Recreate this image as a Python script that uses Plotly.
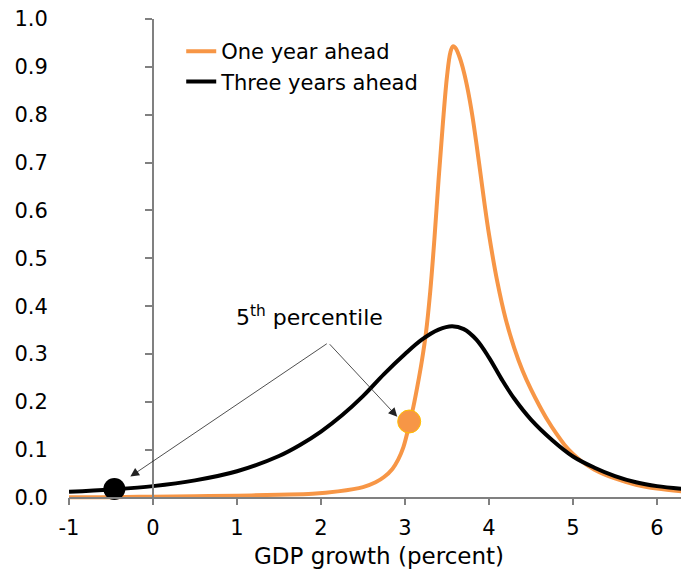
import plotly.graph_objects as go

# ---- data ----
x_one = [-1.0, -0.5, 0.0, 0.5, 1.0, 1.5, 1.9, 2.2, 2.5, 2.65, 2.75, 2.85, 2.92, 2.98,
         3.05, 3.1, 3.15, 3.2, 3.25, 3.3, 3.35, 3.4, 3.45, 3.5, 3.54, 3.57, 3.6, 3.65,
         3.7, 3.75, 3.8, 3.85, 3.9, 3.95, 4.0, 4.1, 4.2, 4.3, 4.4, 4.5, 4.6, 4.7, 4.8,
         4.9, 5.0, 5.1, 5.25, 5.5, 5.75, 6.0, 6.38]
y_one = [0.001, 0.001, 0.002, 0.003, 0.004, 0.006, 0.008, 0.013, 0.022, 0.032, 0.043,
         0.06, 0.08, 0.105, 0.152, 0.19, 0.235, 0.285, 0.345, 0.43, 0.54, 0.665, 0.78,
         0.88, 0.93, 0.943, 0.94, 0.92, 0.89, 0.85, 0.80, 0.74, 0.675, 0.61, 0.55,
         0.45, 0.372, 0.313, 0.265, 0.226, 0.192, 0.161, 0.134, 0.11, 0.091, 0.076,
         0.059, 0.04, 0.027, 0.019, 0.012]

x_three = [-1.0, -0.5, 0.0, 0.5, 1.0, 1.5, 1.75, 2.0, 2.25, 2.5, 2.75, 3.0, 3.2, 3.4,
           3.56, 3.7, 3.85, 4.0, 4.15, 4.3, 4.5, 4.75, 5.0, 5.25, 5.5, 5.75, 6.0, 6.38]
y_three = [0.012, 0.017, 0.024, 0.036, 0.055, 0.087, 0.11, 0.138, 0.172, 0.212, 0.258,
           0.300, 0.33, 0.351, 0.358, 0.352, 0.33, 0.2925, 0.2475, 0.207, 0.163, 0.1205,
           0.086, 0.063, 0.045, 0.032, 0.024, 0.017]

# 5th percentile points
p5_one = (3.05, 0.159)
p5_three = (-0.46, 0.018)

# annotation anchors
label_pos = (1.865, 0.38)
arrow_tail = (2.087, 0.3236)
arrow_head_one = (2.908, 0.169)
arrow_head_three = (-0.27, 0.044)

x_ticks = [-1, 0, 1, 2, 3, 4, 5, 6]
y_ticks = [0.0, 0.1, 0.2, 0.3, 0.4, 0.5, 0.6, 0.7, 0.8, 0.9, 1.0]

ORANGE = "#F79646"
FONT = "DejaVu Sans"
AXIS_GRAY = "#808080"

x_range = [-1, -1 + 620 / 84]
y_range = [-0.005, 1.0]

fig = go.Figure()
fig.add_trace(go.Scatter(x=x_one, y=y_one, mode="lines", name="One year ahead",
                         line=dict(color=ORANGE, width=4, shape="spline", smoothing=1.0),
                         hoverinfo="skip"))
fig.add_trace(go.Scatter(x=x_three, y=y_three, mode="lines", name="Three years ahead",
                         line=dict(color="black", width=4, shape="spline", smoothing=1.0),
                         hoverinfo="skip"))
# dots on the overlay axis (which also carries the y-axis line at x=0)
fig.add_trace(go.Scatter(x=[p5_three[0]], y=[p5_three[1]], mode="markers", yaxis="y2",
                         marker=dict(color="black", size=22), showlegend=False,
                         hoverinfo="skip"))
fig.add_trace(go.Scatter(x=[p5_one[0]], y=[p5_one[1]], mode="markers", yaxis="y2",
                         marker=dict(color=ORANGE, size=23, line=dict(color="#FFC000", width=1)),
                         showlegend=False, hoverinfo="skip"))

# The page body has an 8px default margin, so the figure is sized to fill the rest.
fig.update_layout(
    width=681, height=561,
    margin=dict(l=61, r=0, t=11, b=69, autoexpand=False),
    paper_bgcolor="white", plot_bgcolor="white",
    font=dict(family=FONT, size=21, color="black"),
    showlegend=True,
    legend=dict(x=0.181, y=0.975, xanchor="left", yanchor="top",
                bgcolor="rgba(0,0,0,0)", font=dict(size=21, family=FONT),
                tracegroupgap=0),
    xaxis=dict(range=x_range, tickvals=x_ticks, ticktext=[str(v) for v in x_ticks],
               showgrid=False, zeroline=False, showline=True, linecolor=AXIS_GRAY,
               linewidth=1.5, ticks="outside", ticklen=7, tickwidth=1.5,
               tickcolor=AXIS_GRAY, anchor="free", position=0.005 / 1.005,
               ticklabelstandoff=4, automargin=False, ticklabeloverflow="allow",
               title=dict(text="GDP growth (percent)", font=dict(size=23), standoff=20),
               tickfont=dict(size=21)),
    yaxis=dict(range=y_range, tickvals=y_ticks, tickformat=".1f", showgrid=False,
               zeroline=False, showline=False, ticks="outside", ticklen=16,
               tickcolor="rgba(0,0,0,0)", tickfont=dict(size=21), automargin=False,
               ticklabeloverflow="allow"),
    yaxis2=dict(range=y_range, overlaying="y", anchor="free",
                position=1 / (x_range[1] - x_range[0]), side="left",
                showgrid=False, zeroline=False, showline=True, linecolor=AXIS_GRAY,
                linewidth=1.5, ticks="outside", ticklen=7, tickwidth=1.5,
                tickcolor=AXIS_GRAY, tickvals=y_ticks, showticklabels=False,
                automargin=False),
)

fig.add_annotation(x=label_pos[0], y=label_pos[1], xref="x", yref="y",
                   text="5<sup>th</sup> percentile", showarrow=False,
                   font=dict(size=22, family=FONT))
for head in (arrow_head_three, arrow_head_one):
    fig.add_annotation(x=head[0], y=head[1], xref="x", yref="y",
                       ax=arrow_tail[0], ay=arrow_tail[1], axref="x", ayref="y",
                       text="", showarrow=True, arrowhead=2, arrowsize=2.2,
                       arrowwidth=0.8, arrowcolor="#222222", standoff=0)

fig.write_html("out.html")
